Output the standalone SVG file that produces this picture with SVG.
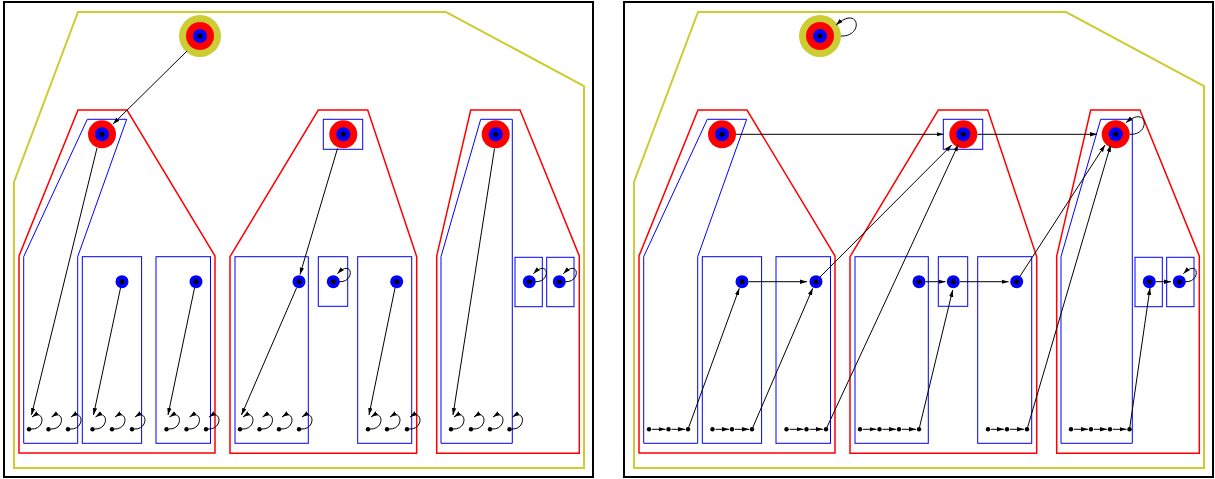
<svg xmlns="http://www.w3.org/2000/svg" width="1215" height="479" viewBox="0 0 1215 479">
<style>
.frame{fill:none;stroke:#000;stroke-width:2}
.outer{fill:none;stroke:#cccc33;stroke-width:2}
.clr{fill:none;stroke:#ff0000;stroke-width:1.5}
.clb{fill:none;stroke:#0000ff;stroke-width:1}
.y{fill:#cccc33}.r{fill:#ff0000}.b{fill:#0000ff}.k{fill:#000}
.e path{fill:none;stroke:#000;stroke-width:1;marker-end:url(#ah)}
</style>
<defs>
<marker id="ah" viewBox="0 0 7 5" refX="7" refY="2.5" markerWidth="7" markerHeight="5" markerUnits="userSpaceOnUse" orient="auto"><path d="M0,0.3 L7,2.5 L0,4.7 Z" fill="#000"/></marker>
</defs>

<g id="panel-left">
<rect class="frame" x="4" y="2" width="589" height="475"/>
<g id="L-clusters">
<polygon class="outer" points="78,12 446,12 584,86 584,468 14,468 14,182"/>
<polygon class="clr" points="78,110 127,110 215,256 215,453 19,453 19,256"/>
<polygon class="clb" points="87.3,119.3 126.7,119.3 77.7,256.7 77.7,443.3 23.7,443.3 23.7,256.7"/>
<rect class="clb" x="82.3" y="256.7" width="59.3" height="186.6"/>
<rect class="clb" x="156" y="256.7" width="54.5" height="186.6"/>
<polygon class="clr" points="318.3,110 367.7,110 416.7,256.7 416.7,453.3 230,453.3 230,256.7"/>
<rect class="clb" x="323.3" y="119.3" width="39.4" height="30"/>
<rect class="clb" x="235" y="256.7" width="73.3" height="186.6"/>
<rect class="clb" x="318.3" y="256.7" width="29.4" height="49.6"/>
<rect class="clb" x="357.7" y="256.7" width="54" height="186.6"/>
<polygon class="clr" points="470.7,110 520,110 579.3,256 579.3,453.3 436.7,453.3 436.7,256"/>
<polygon class="clb" points="480.7,119.3 512.3,119.3 512.3,443.3 441,443.3 441,256.7"/>
<rect class="clb" x="515" y="257.3" width="27.3" height="49.4"/>
<rect class="clb" x="546.7" y="257.3" width="27.3" height="49.4"/>
</g>
<g id="L-top"><circle class="y" cx="200" cy="36" r="21"/><circle class="r" cx="200" cy="36" r="14"/><circle class="b" cx="200" cy="36" r="7"/><circle class="k" cx="200" cy="36" r="2.5"/></g>
<g id="L-r1"><circle class="r" cx="102" cy="134.3" r="14"/><circle class="b" cx="102" cy="134.3" r="7"/><circle class="k" cx="102" cy="134.3" r="2.5"/></g>
<g id="L-r2"><circle class="r" cx="343.3" cy="134.3" r="14"/><circle class="b" cx="343.3" cy="134.3" r="7"/><circle class="k" cx="343.3" cy="134.3" r="2.5"/></g>
<g id="L-r3"><circle class="r" cx="495.7" cy="134.3" r="14"/><circle class="b" cx="495.7" cy="134.3" r="7"/><circle class="k" cx="495.7" cy="134.3" r="2.5"/></g>
<g id="L-b1"><circle class="b" cx="122" cy="281.7" r="6.5"/><circle class="k" cx="122" cy="281.7" r="2.5"/></g>
<g id="L-b2"><circle class="b" cx="196" cy="281.7" r="6.5"/><circle class="k" cx="196" cy="281.7" r="2.5"/></g>
<g id="L-b3"><circle class="b" cx="299" cy="281.7" r="6.5"/><circle class="k" cx="299" cy="281.7" r="2.5"/></g>
<g id="L-b4"><circle class="b" cx="333.3" cy="281.7" r="6.5"/><circle class="k" cx="333.3" cy="281.7" r="2.5"/></g>
<g id="L-b5"><circle class="b" cx="396.7" cy="281.7" r="6.5"/><circle class="k" cx="396.7" cy="281.7" r="2.5"/></g>
<g id="L-b6"><circle class="b" cx="529.3" cy="281.7" r="6.5"/><circle class="k" cx="529.3" cy="281.7" r="2.5"/></g>
<g id="L-b7"><circle class="b" cx="559.3" cy="281.7" r="6.5"/><circle class="k" cx="559.3" cy="281.7" r="2.5"/></g>
<g id="L-d1" class="k"><circle cx="29" cy="429.3" r="2.2"/></g><g id="L-d2" class="k"><circle cx="48.5" cy="429.3" r="2.2"/></g><g id="L-d3" class="k"><circle cx="68" cy="429.3" r="2.2"/></g>
<g id="L-d4" class="k"><circle cx="92.5" cy="429.3" r="2.2"/></g><g id="L-d5" class="k"><circle cx="112" cy="429.3" r="2.2"/></g><g id="L-d6" class="k"><circle cx="132" cy="429.3" r="2.2"/></g>
<g id="L-d7" class="k"><circle cx="166.5" cy="429.3" r="2.2"/></g><g id="L-d8" class="k"><circle cx="186.5" cy="429.3" r="2.2"/></g><g id="L-d9" class="k"><circle cx="206" cy="429.3" r="2.2"/></g>
<g id="L-d10" class="k"><circle cx="240" cy="429.3" r="2.2"/></g><g id="L-d11" class="k"><circle cx="259.5" cy="429.3" r="2.2"/></g><g id="L-d12" class="k"><circle cx="279" cy="429.3" r="2.2"/></g><g id="L-d13" class="k"><circle cx="299" cy="429.3" r="2.2"/></g>
<g id="L-d14" class="k"><circle cx="368" cy="429.3" r="2.2"/></g><g id="L-d15" class="k"><circle cx="387" cy="429.3" r="2.2"/></g><g id="L-d16" class="k"><circle cx="407" cy="429.3" r="2.2"/></g>
<g id="L-d17" class="k"><circle cx="451" cy="429.3" r="2.2"/></g><g id="L-d18" class="k"><circle cx="471" cy="429.3" r="2.2"/></g><g id="L-d19" class="k"><circle cx="490" cy="429.3" r="2.2"/></g><g id="L-d20" class="k"><circle cx="509.5" cy="429.3" r="2.2"/></g>
<g id="L-connectors" class="e">
<path d="M187,51 L113,124"/>
<path d="M97,148 L31.5,415"/>
<path d="M120.5,288 L93.5,415"/>
<path d="M194.5,288 L168,415"/>
<path d="M337.5,148.5 L300,274.5"/>
<path d="M296.5,288 L241.5,415"/>
<path d="M395,288 L369,415"/>
<path d="M494.5,148.5 L453,415"/>
<path d="M339.3,281.7 C355.3,282.7 353.3,257.7 337.3,273.7"/>
<path d="M535.3,281.7 C551.3,282.7 549.3,257.7 533.3,273.7"/>
<path d="M565.3,281.7 C581.3,282.7 579.3,257.7 563.3,273.7"/>
<path d="M31,429 C46,430 45,408 32,417"/>
<path d="M50.5,429 C65.5,430 64.5,408 51.5,417"/>
<path d="M70,429 C85,430 84,408 71,417"/>
<path d="M94.5,429 C109.5,430 108.5,408 95.5,417"/>
<path d="M114,429 C129,430 128,408 115,417"/>
<path d="M134,429 C149,430 148,408 135,417"/>
<path d="M168.5,429 C183.5,430 182.5,408 169.5,417"/>
<path d="M188.5,429 C203.5,430 202.5,408 189.5,417"/>
<path d="M208,429 C223,430 222,408 209,417"/>
<path d="M242,429 C257,430 256,408 243,417"/>
<path d="M261.5,429 C276.5,430 275.5,408 262.5,417"/>
<path d="M281,429 C296,430 295,408 282,417"/>
<path d="M301,429 C316,430 315,408 302,417"/>
<path d="M370,429 C385,430 384,408 371,417"/>
<path d="M389,429 C404,430 403,408 390,417"/>
<path d="M409,429 C424,430 423,408 410,417"/>
<path d="M453,429 C468,430 467,408 454,417"/>
<path d="M473,429 C488,430 487,408 474,417"/>
<path d="M492,429 C507,430 506,408 493,417"/>
<path d="M511.5,429 C526.5,430 525.5,408 512.5,417"/>
</g>
</g>

<g id="panel-right" transform="translate(620,0)">
<rect class="frame" x="4" y="2" width="589" height="475"/>
<g id="R-clusters">
<polygon class="outer" points="78,12 446,12 584,86 584,468 14,468 14,182"/>
<polygon class="clr" points="78,110 127,110 215,256 215,453 19,453 19,256"/>
<polygon class="clb" points="87.3,119.3 126.7,119.3 77.7,256.7 77.7,443.3 23.7,443.3 23.7,256.7"/>
<rect class="clb" x="82.3" y="256.7" width="59.3" height="186.6"/>
<rect class="clb" x="156" y="256.7" width="54.5" height="186.6"/>
<polygon class="clr" points="318.3,110 367.7,110 416.7,256.7 416.7,453.3 230,453.3 230,256.7"/>
<rect class="clb" x="323.3" y="119.3" width="39.4" height="30"/>
<rect class="clb" x="235" y="256.7" width="73.3" height="186.6"/>
<rect class="clb" x="318.3" y="256.7" width="29.4" height="49.6"/>
<rect class="clb" x="357.7" y="256.7" width="54" height="186.6"/>
<polygon class="clr" points="470.7,110 520,110 579.3,256 579.3,453.3 436.7,453.3 436.7,256"/>
<polygon class="clb" points="480.7,119.3 512.3,119.3 512.3,443.3 441,443.3 441,256.7"/>
<rect class="clb" x="515" y="257.3" width="27.3" height="49.4"/>
<rect class="clb" x="546.7" y="257.3" width="27.3" height="49.4"/>
</g>
<g id="R-top"><circle class="y" cx="200" cy="36" r="21"/><circle class="r" cx="200" cy="36" r="14"/><circle class="b" cx="200" cy="36" r="7"/><circle class="k" cx="200" cy="36" r="2.5"/></g>
<g id="R-r1"><circle class="r" cx="102" cy="134.3" r="14"/><circle class="b" cx="102" cy="134.3" r="7"/><circle class="k" cx="102" cy="134.3" r="2.5"/></g>
<g id="R-r2"><circle class="r" cx="343.3" cy="134.3" r="14"/><circle class="b" cx="343.3" cy="134.3" r="7"/><circle class="k" cx="343.3" cy="134.3" r="2.5"/></g>
<g id="R-r3"><circle class="r" cx="495.7" cy="134.3" r="14"/><circle class="b" cx="495.7" cy="134.3" r="7"/><circle class="k" cx="495.7" cy="134.3" r="2.5"/></g>
<g id="R-b1"><circle class="b" cx="122" cy="281.7" r="6.5"/><circle class="k" cx="122" cy="281.7" r="2.5"/></g>
<g id="R-b2"><circle class="b" cx="196" cy="281.7" r="6.5"/><circle class="k" cx="196" cy="281.7" r="2.5"/></g>
<g id="R-b3"><circle class="b" cx="299" cy="281.7" r="6.5"/><circle class="k" cx="299" cy="281.7" r="2.5"/></g>
<g id="R-b4"><circle class="b" cx="333.3" cy="281.7" r="6.5"/><circle class="k" cx="333.3" cy="281.7" r="2.5"/></g>
<g id="R-b5"><circle class="b" cx="396.7" cy="281.7" r="6.5"/><circle class="k" cx="396.7" cy="281.7" r="2.5"/></g>
<g id="R-b6"><circle class="b" cx="529.3" cy="281.7" r="6.5"/><circle class="k" cx="529.3" cy="281.7" r="2.5"/></g>
<g id="R-b7"><circle class="b" cx="559.3" cy="281.7" r="6.5"/><circle class="k" cx="559.3" cy="281.7" r="2.5"/></g>
<g id="R-d1" class="k"><circle cx="29" cy="429.3" r="2.2"/></g><g id="R-d2" class="k"><circle cx="48.5" cy="429.3" r="2.2"/></g><g id="R-d3" class="k"><circle cx="68" cy="429.3" r="2.2"/></g>
<g id="R-d4" class="k"><circle cx="92.5" cy="429.3" r="2.2"/></g><g id="R-d5" class="k"><circle cx="112" cy="429.3" r="2.2"/></g><g id="R-d6" class="k"><circle cx="132" cy="429.3" r="2.2"/></g>
<g id="R-d7" class="k"><circle cx="166.5" cy="429.3" r="2.2"/></g><g id="R-d8" class="k"><circle cx="186.5" cy="429.3" r="2.2"/></g><g id="R-d9" class="k"><circle cx="206" cy="429.3" r="2.2"/></g>
<g id="R-d10" class="k"><circle cx="240" cy="429.3" r="2.2"/></g><g id="R-d11" class="k"><circle cx="259.5" cy="429.3" r="2.2"/></g><g id="R-d12" class="k"><circle cx="279" cy="429.3" r="2.2"/></g><g id="R-d13" class="k"><circle cx="299" cy="429.3" r="2.2"/></g>
<g id="R-d14" class="k"><circle cx="368" cy="429.3" r="2.2"/></g><g id="R-d15" class="k"><circle cx="387" cy="429.3" r="2.2"/></g><g id="R-d16" class="k"><circle cx="407" cy="429.3" r="2.2"/></g>
<g id="R-d17" class="k"><circle cx="451" cy="429.3" r="2.2"/></g><g id="R-d18" class="k"><circle cx="471" cy="429.3" r="2.2"/></g><g id="R-d19" class="k"><circle cx="490" cy="429.3" r="2.2"/></g><g id="R-d20" class="k"><circle cx="509.5" cy="429.3" r="2.2"/></g>
<g id="R-connectors" class="e">
<path d="M221,36 C244,37 240,4 216,25"/>
<path d="M116,134.3 L323.5,134.3"/>
<path d="M357.5,134.3 L477,134.3"/>
<path d="M510,134.3 C531,135.3 528,104 506,122.7"/>
<path d="M68,429.3 L119.3,288.3"/>
<path d="M132,429.3 L192.7,288.3"/>
<path d="M128.5,281.7 L187,281.7"/>
<path d="M200,277 L331.7,145"/>
<path d="M206,429.3 L338.3,144.5"/>
<path d="M305.5,281.7 L325.5,281.7"/>
<path d="M340,281.7 L388.5,281.7"/>
<path d="M299,429.3 L332.7,290"/>
<path d="M399.5,277 L485,145"/>
<path d="M407,429.3 L490.7,145"/>
<path d="M509.5,429.3 L530,288"/>
<path d="M536,281.7 L551,281.7"/>
<path d="M565.3,281.7 C581.3,282.7 579.3,257.7 563.3,273.7"/>
<path d="M32,429.3 L45.5,429.3"/><path d="M51.5,429.3 L65,429.3"/>
<path d="M95.5,429.3 L109,429.3"/><path d="M115,429.3 L129,429.3"/>
<path d="M169.5,429.3 L183.5,429.3"/><path d="M189.5,429.3 L203,429.3"/>
<path d="M243,429.3 L256.5,429.3"/><path d="M262.5,429.3 L276,429.3"/><path d="M282,429.3 L296,429.3"/>
<path d="M371,429.3 L384,429.3"/><path d="M390,429.3 L404,429.3"/>
<path d="M454,429.3 L468,429.3"/><path d="M474,429.3 L487,429.3"/><path d="M493,429.3 L506.5,429.3"/>
</g>
</g>
</svg>
